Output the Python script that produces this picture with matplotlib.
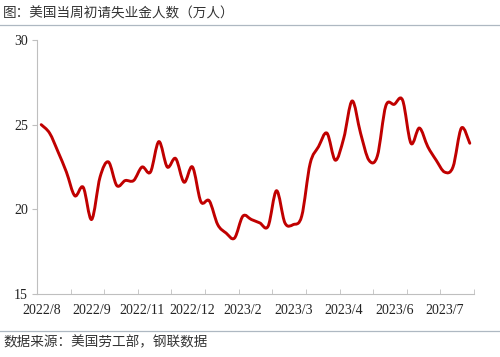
import numpy as np
import matplotlib.pyplot as plt
from matplotlib.lines import Line2D
from matplotlib.path import Path
from matplotlib.patches import PathPatch
from matplotlib.ticker import FixedLocator

plt.rcParams['font.family'] = ['Liberation Serif', 'Noto Sans CJK SC']

# weekly initial jobless claims, 10k persons
claims = [25.0, 24.5, 23.4, 22.2, 20.8, 21.3, 19.4, 21.9, 22.8, 21.4,
          21.7, 21.7, 22.5, 22.2, 24.0, 22.5, 23.0, 21.6, 22.5, 20.45,
          20.5, 19.1, 18.6, 18.3, 19.6, 19.4, 19.2, 19.0, 21.1, 19.2,
          19.1, 19.6, 22.7, 23.7, 24.5, 22.9, 24.2, 26.4, 24.5, 22.9,
          23.15, 26.1, 26.2, 26.45, 23.9, 24.8, 23.7, 22.9, 22.2, 22.5,
          24.8, 23.9]
label_pos = [0, 6, 12, 18, 24, 30, 36, 42, 48]
label_txt = ['2022/8', '2022/9', '2022/11', '2022/12', '2023/2',
             '2023/3', '2023/4', '2023/6', '2023/7']
y_ticks = [15, 20, 25, 30]

x = np.arange(len(claims), dtype=float)
y = np.array(claims)

fig = plt.figure(figsize=(5, 3.57), dpi=100)
ax = fig.add_axes([0.074, 0.1765, 0.874, 0.7115])

# smoothed line (Excel style): cubic bezier segments through every data point
pts = np.column_stack([x, y])
ext = np.vstack([pts[0], pts, pts[-1]])
verts = [pts[0]]
codes = [Path.MOVETO]
for i in range(len(pts) - 1):
    c1 = ext[i + 1] + (ext[i + 2] - ext[i]) / 6
    c2 = ext[i + 2] - (ext[i + 3] - ext[i + 1]) / 6
    verts += [c1, c2, pts[i + 1]]
    codes += [Path.CURVE4] * 3
ax.add_patch(PathPatch(Path(verts, codes), fill=False, edgecolor='#C00000',
                       lw=2.1, joinstyle='round', capstyle='round'))

ax.set_xlim(-0.5, len(claims) - 0.5)
ax.set_ylim(15, 30)
ax.set_yticks(y_ticks)
ax.set_xticks(label_pos)
ax.set_xticklabels(label_txt)
ax.xaxis.set_minor_locator(FixedLocator(np.arange(-0.5, len(claims), 4)))
ax.tick_params(axis='x', which='major', length=0, labelsize=10, pad=7, colors='#222222')
ax.tick_params(axis='x', which='minor', length=3.5, direction='in', color='#BFBFBF')
ax.tick_params(axis='y', length=3.5, direction='out', color='#BFBFBF', labelsize=10, pad=3, labelcolor='#222222')

for s in ['top', 'right']:
    ax.spines[s].set_visible(False)
for s in ['left', 'bottom']:
    ax.spines[s].set_color('#BFBFBF')
    ax.spines[s].set_linewidth(0.8)

fig.text(0.006, 0.962, '图：美国当周初请失业金人数（万人）', family='Noto Sans CJK SC',
         fontsize=9.8, va='center', ha='left', color='#333333')
fig.text(0.006, 0.04, '数据来源：美国劳工部，钢联数据', family='Noto Sans CJK SC',
         fontsize=9.8, va='center', ha='left', color='#333333')
fig.add_artist(Line2D([0, 1], [0.93, 0.93], color='#AEB8C2', lw=0.9, transform=fig.transFigure))
fig.add_artist(Line2D([0, 1], [0.073, 0.073], color='#AEB8C2', lw=0.9, transform=fig.transFigure))

fig.savefig('out.png', dpi=100)
